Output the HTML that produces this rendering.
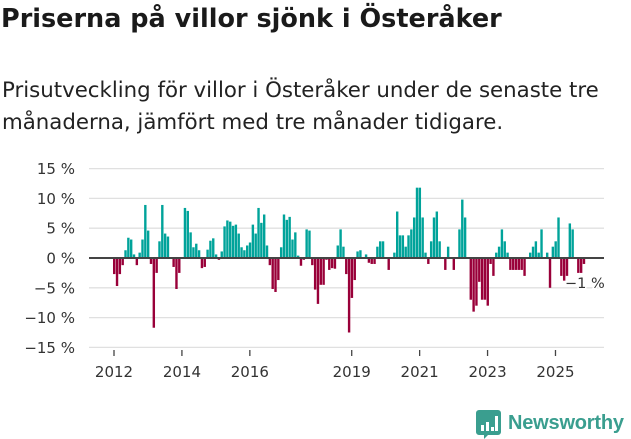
<!DOCTYPE html>
<html><head><meta charset="utf-8"><style>
body{margin:0;width:631px;height:439px;background:#fff;font-family:"Liberation Sans","DejaVu Sans",sans-serif;overflow:hidden;position:relative}
#title{position:absolute;left:1px;top:4px;font-size:25.5px;font-weight:bold;color:#1a1a1a;margin:0;font-family:"DejaVu Sans",sans-serif;white-space:nowrap}
#sub{position:absolute;left:2px;top:75px;font-size:21.3px;line-height:32px;color:#222;width:628px;font-family:"DejaVu Sans",sans-serif}
svg{position:absolute;left:0;top:0}
</style></head><body>
<h1 id="title">Priserna på villor sjönk i Österåker</h1>
<div id="sub">Prisutveckling för villor i Österåker under de senaste tre månaderna, jämfört med tre månader tidigare.</div>
<svg id="chart" width="631" height="439"></svg>
<script>
const values=[-2.7,-4.7,-2.7,-1.2,1.3,3.4,3.1,0.6,-1.2,0.9,3.1,8.9,4.6,-1,-11.7,-2.5,2.8,8.9,4.1,3.6,0,-1.5,-5.2,-2.5,0,8.4,7.9,4.3,1.8,2.4,1.3,-1.7,-1.5,1.4,2.9,3.3,0.6,-0.3,1.1,5.3,6.3,6.1,5.4,5.6,4.1,1.8,1.3,2.1,2.6,5.6,4.1,8.4,5.9,7.3,2.1,-1.2,-5.2,-5.7,-3.7,1.8,7.3,6.4,6.9,3.1,4.3,0.4,-1.3,-0.3,4.8,4.6,-1.2,-5.3,-7.7,-4.5,-4.5,-0.3,-2,-1.7,-1.8,2.1,4.8,1.9,-2.7,-12.5,-6.7,-3.7,1.1,1.3,0,0.6,-0.8,-1,-1,1.9,2.8,2.8,0,-2,0,0.9,7.8,3.8,3.8,1.9,3.8,4.8,6.8,11.8,11.8,6.8,0.9,-1,2.8,6.8,7.8,2.8,0,-2,1.9,0,-2,0,4.8,9.8,6.8,0,-7,-9,-8,-4,-7,-7,-8,-1,-3,0.9,1.9,4.8,2.8,0.9,-2,-2,-2,-2,-2,-3,0,0.9,1.9,2.8,0.9,4.8,0,0.9,-5,1.9,2.8,6.8,-3,-3.8,-3,5.8,4.8,0,-2.5,-2.5,-1];
const startYear=2012;
const yTicks=[15,10,5,0,-5,-10,-15];
const xTickYears=[2012,2014,2016,2019,2021,2023,2025];
const lastLabel="−1 %";
const NS="http://www.w3.org/2000/svg";
const svg=document.getElementById('chart');
const x0=113,mw=2.83,zeroY=258,pxPer=5.96;
const xs=i=>x0+i*mw;
const ys=v=>zeroY-v*pxPer;
function mk(t,a){const e=document.createElementNS(NS,t);for(const k in a)e.setAttribute(k,a[k]);svg.appendChild(e);return e;}
yTicks.forEach(v=>{
 if(v!==0){const g=mk('line',{x1:89,x2:604,y1:ys(v),y2:ys(v),stroke:'#e0e0e0','stroke-width':1.3});
 
 }
 const t=mk('text',{x:75,y:ys(v)+5.5,'text-anchor':'end','font-size':15,fill:'#333','font-family':'DejaVu Sans, sans-serif'});
 t.textContent=(v<0?'−'+(-v):v)+' %';
 
 
});
values.forEach((v,i)=>{
 const y=ys(Math.max(v,0)),h=Math.abs(v)*pxPer;
 const r=mk('rect',{x:xs(i),y:y,width:2.4,height:Math.max(h,0.01),fill:v>=0?'#00a39a':'#990039'});
 
 
});
const z=mk('line',{x1:89,x2:604,y1:zeroY,y2:zeroY,stroke:'#444','stroke-width':2});


xTickYears.forEach(yr=>{
 const x=xs((yr-startYear)*12)+1;
 const tk=mk('line',{x1:x,x2:x,y1:350,y2:356,stroke:'#444','stroke-width':1.3});
 
 
 const t=mk('text',{x:x,y:377,'text-anchor':'middle','font-size':15,fill:'#333','font-family':'DejaVu Sans, sans-serif'});
 t.textContent=yr;
 
 
});
const lt=mk('text',{x:565,y:288,'font-size':14.5,fill:'#333',stroke:'#fff','stroke-width':3,'paint-order':'stroke','font-family':'DejaVu Sans, sans-serif'});
lt.textContent=lastLabel;


</script>
<svg width="631" height="439" style="pointer-events:none">
<path d="M479 410h19a3 3 0 0 1 3 3v19a3 3 0 0 1-3 3h-10l-4 4v-4h-5a3 3 0 0 1-3-3v-19a3 3 0 0 1 3-3z" fill="#3a9e8f"/>
<rect x="481" y="425" width="3" height="6" fill="#fff"/><rect x="486" y="422" width="3" height="9" fill="#fff"/><rect x="491" y="427" width="3" height="4" fill="#fff"/><rect x="495" y="416" width="3" height="15" fill="#fff"/>
<text x="508" y="429" font-size="20" font-weight="bold" fill="#3a9e8f" font-family="Liberation Sans, DejaVu Sans, sans-serif" textLength="116">Newsworthy</text>
</svg>
</body></html>
